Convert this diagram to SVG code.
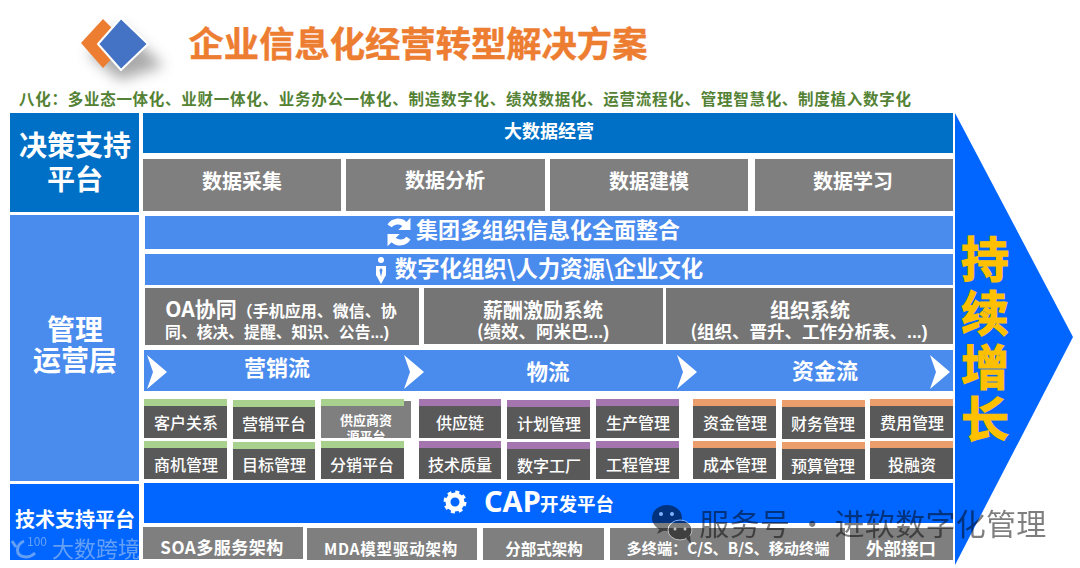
<svg xmlns="http://www.w3.org/2000/svg" width="1080" height="568" viewBox="0 0 1080 568">
<defs>
<style>
text{font-family:"Noto Sans CJK SC","Noto Sans",sans-serif;font-weight:700;fill:#fff;text-anchor:middle}
.dk{fill:#0070C6}.bl{fill:#4A8BEE}.br{fill:#0066FF}.gr{fill:#7F7F7F}.sm{fill:#595959}.mid{fill:#757575}
.g{fill:#A9D18E}.p{fill:#A475AE}.o{fill:#EB9E6B}
.t13{font-size:16px;font-weight:500}
.t20{font-size:20px}
.lat{font-family:"Liberation Sans",sans-serif}
</style>
<filter id="sh" x="-50%" y="-50%" width="200%" height="200%"><feGaussianBlur stdDeviation="7"/></filter>
</defs>
<rect width="1080" height="568" fill="#fff"/>
<g id="logo">
<path d="M128 32 L172 72 L128 86 L96 60Z" fill="#555" opacity=".5" filter="url(#sh)" transform="translate(-8,-6)"/>
<path d="M103 19 L81 43 L103 68 L115 55 L103 43 L115 31Z" fill="#ED7D31"/>
<path d="M121 18 L148 44 L121 70 L98 44Z" fill="#4472C4" stroke="#fff" stroke-width="2" stroke-linejoin="round"/>
</g>
<g id="title"><text x="418" y="57" style="font-size:35.300px;fill:#ED7D31;stroke:#ED7D31;stroke-width:.4px">企业信息化经营转型解决方案</text></g>
<g id="subtitle"><text x="465" y="105" textLength="892" lengthAdjust="spacing" style="font-size:15.5px;fill:#548235">八化：多业态一体化、业财一体化、业务办公一体化、制造数字化、绩效数据化、运营流程化、管理智慧化、制度植入数字化</text></g>

<g id="arrow"><polygon points="955,113 1073,337 955,565" class="br"/>
<text style="font-size:48px;fill:#FFC000;stroke:#FFC000;stroke-width:1.200px"><tspan x="985" y="277">持</tspan><tspan x="985" y="331">续</tspan><tspan x="985" y="385">增</tspan><tspan x="985" y="437">长</tspan></text></g>

<g id="decision"><rect x="10" y="113" width="129" height="99" class="dk"/>
<text style="font-size:28px"><tspan x="75" y="156">决策支持</tspan><tspan x="75" y="190">平台</tspan></text></g>
<g id="mgmt"><rect x="10" y="215" width="129" height="266" class="bl"/>
<text style="font-size:28px"><tspan x="75" y="340">管理</tspan><tspan x="75" y="371">运营层</tspan></text></g>
<g id="tech"><rect x="10" y="484" width="129" height="76" class="br"/>
<text x="75" y="527" style="font-size:20px">技术支持平台</text></g>

<g id="bigdata"><rect x="143" y="113" width="810" height="40" class="dk"/><text x="549" y="138" style="font-size:18px">大数据经营</text></g>
<g id="d1"><rect x="143" y="159" width="198" height="52" class="gr"/><text x="242" y="189" class="t20">数据采集</text></g>
<g id="d2"><rect x="346" y="159" width="199" height="52" class="gr"/><text x="445" y="188" class="t20">数据分析</text></g>
<g id="d3"><rect x="550" y="159" width="198" height="52" class="gr"/><text x="649" y="189" class="t20">数据建模</text></g>
<g id="d4"><rect x="755" y="159" width="198" height="52" class="gr"/><text x="853" y="189" class="t20">数据学习</text></g>

<g id="integrate"><rect x="145" y="216" width="808" height="33" class="bl"/>
<path transform="translate(399,232) scale(1.350) translate(-399.500,-231.500)" d="M391 226a9 9 0 0 1 14-2l3-3v9h-9l3-3a6 6 0 0 0-8 1zM408 237a9 9 0 0 1-14 2l-3 3v-9h9l-3 3a6 6 0 0 0 8-1z" fill="#fff"/>
<text x="548" y="238" style="font-size:22px">集团多组织信息化全面整合</text></g>
<g id="org"><rect x="145" y="254" width="808" height="31" class="bl"/>
<circle cx="381" cy="260" r="3" fill="#fff"/><path d="M376 266h10v9l-5 9-5-9z" fill="#fff"/><path d="M381 268l-1.500 2 1.500 7 1.500-7z" fill="#4A8BEE"/>
<text x="549" y="277" style="font-size:22.400px">数字化组织\人力资源\企业文化</text></g>

<g id="oa"><rect x="145" y="288" width="274" height="57" class="mid"/>
<text x="281" y="317" style="font-size:16px"><tspan style="font-size:21px">OA协同</tspan>（手机应用、微信、协</text><text x="277" y="338" style="font-size:15.800px">同、核决、提醒、知识、公告<tspan class="lat">...)</tspan></text></g>
<g id="pay"><rect x="424" y="288" width="239" height="56" class="mid"/>
<text x="543" y="318" style="font-size:20px">薪酬激励系统</text><text x="543" y="338" style="font-size:17.500px">(绩效、阿米巴<tspan class="lat">...)</tspan></text></g>
<g id="orgsys"><rect x="666" y="288" width="287" height="56" class="mid"/>
<text x="810" y="318" style="font-size:20px">组织系统</text><text x="809" y="338" style="font-size:17.500px">(组织、晋升、工作分析表、<tspan class="lat">...)</tspan></text></g>

<g id="flow"><rect x="144" y="350" width="809" height="41" class="bl"/>
<path d="M147 355l20 17-20 17 6-17z" fill="#fff"/><path d="M404 355l20 17-20 17 6-17z" fill="#fff"/><path d="M677 355l20 17-20 17 6-17z" fill="#fff"/><path d="M930 355l20 17-20 17 6-17z" fill="#fff"/>
<text x="277" y="376" style="font-size:22px">营销流</text><text x="548" y="380" style="font-size:21.500px">物流</text><text x="825" y="379" style="font-size:22px">资金流</text></g>

<g id="s11"><rect x="144" y="399" width="83" height="39" class="sm"/><rect x="144" y="399" width="83" height="7" class="g"/><text x="186" y="429" class="t13">客户关系</text></g>
<g id="s12"><rect x="233" y="400" width="82" height="39" class="sm"/><rect x="233" y="400" width="82" height="7" class="g"/><text x="274" y="430" class="t13">营销平台</text></g>
<g id="s13"><rect x="321" y="401" width="90" height="37" class="gr"/><text x="366" y="425" style="font-size:13px">供应商资</text><text x="366" y="441" style="font-size:13px">源平台</text><rect x="321" y="438" width="90" height="4" fill="#fff"/><rect x="321" y="399" width="83" height="7" class="g"/></g>
<g id="s21"><rect x="144" y="441" width="83" height="38" class="sm"/><rect x="144" y="441" width="83" height="7" class="g"/><text x="186" y="471" class="t13">商机管理</text></g>
<g id="s22"><rect x="233" y="442" width="82" height="38" class="sm"/><rect x="233" y="442" width="82" height="7" class="g"/><text x="274" y="471" class="t13">目标管理</text></g>
<g id="s23"><rect x="321" y="441" width="83" height="38" class="sm"/><rect x="321" y="441" width="83" height="7" class="g"/><text x="362" y="471" class="t13">分销平台</text></g>

<g id="s14"><rect x="419" y="399" width="82" height="39" class="sm"/><rect x="419" y="399" width="82" height="7" class="p"/><text x="460" y="429" class="t13">供应链</text></g>
<g id="s15"><rect x="507" y="400" width="83" height="39" class="sm"/><rect x="507" y="400" width="83" height="7" class="p"/><text x="549" y="430" class="t13">计划管理</text></g>
<g id="s16"><rect x="596" y="399" width="83" height="39" class="sm"/><rect x="596" y="399" width="83" height="7" class="p"/><text x="638" y="429" class="t13">生产管理</text></g>
<g id="s24"><rect x="419" y="441" width="82" height="38" class="sm"/><rect x="419" y="441" width="82" height="7" class="p"/><text x="460" y="471" class="t13">技术质量</text></g>
<g id="s25"><rect x="507" y="442" width="83" height="38" class="sm"/><rect x="507" y="442" width="83" height="7" class="p"/><text x="549" y="472" class="t13">数字工厂</text></g>
<g id="s26"><rect x="596" y="441" width="83" height="38" class="sm"/><rect x="596" y="441" width="83" height="7" class="p"/><text x="638" y="471" class="t13">工程管理</text></g>

<g id="s17"><rect x="693" y="399" width="83" height="39" class="sm"/><rect x="693" y="399" width="83" height="7" class="o"/><text x="735" y="429" class="t13">资金管理</text></g>
<g id="s18"><rect x="782" y="400" width="83" height="39" class="sm"/><rect x="782" y="400" width="83" height="7" class="o"/><text x="823" y="430" class="t13">财务管理</text></g>
<g id="s19"><rect x="870" y="399" width="83" height="39" class="sm"/><rect x="870" y="399" width="83" height="7" class="o"/><text x="912" y="429" class="t13">费用管理</text></g>
<g id="s27"><rect x="693" y="441" width="83" height="38" class="sm"/><rect x="693" y="441" width="83" height="7" class="o"/><text x="735" y="471" class="t13">成本管理</text></g>
<g id="s28"><rect x="782" y="442" width="83" height="38" class="sm"/><rect x="782" y="442" width="83" height="7" class="o"/><text x="823" y="472" class="t13">预算管理</text></g>
<g id="s29"><rect x="870" y="441" width="83" height="38" class="sm"/><rect x="870" y="441" width="83" height="7" class="o"/><text x="912" y="471" class="t13">投融资</text></g>

<g id="cap"><rect x="144" y="483" width="809" height="40" class="br"/>
<circle cx="455" cy="502" r="7" fill="none" stroke="#fff" stroke-width="5"/><circle cx="455" cy="502" r="10" fill="none" stroke="#fff" stroke-width="3" stroke-dasharray="4 3.850"/>
<text x="484" y="512" style="font-size:29px;text-anchor:start;font-family:'Noto Sans',sans-serif">CAP</text><text x="577" y="511" style="font-size:18.500px">开发平台</text></g>
<g id="b1"><rect x="143" y="527" width="160" height="32" class="gr"/><text x="222" y="554" style="font-size:17px;letter-spacing:.5px">SOA多服务架构</text></g>
<g id="b2"><rect x="307" y="528" width="170" height="32" class="gr"/><text x="391" y="555" style="font-size:15.500px;letter-spacing:.8px">MDA模型驱动架构</text></g>
<g id="b3"><rect x="483" y="528" width="121" height="32" class="gr"/><text x="544" y="555" style="font-size:15.500px">分部式架构</text></g>
<g id="b4"><rect x="610" y="528" width="235" height="32" class="gr"/><text x="728" y="554" style="font-size:15.200px">多终端：C/S、B/S、移动终端</text></g>
<g id="b5"><rect x="850" y="528" width="103" height="32" class="gr"/><text x="901" y="555" style="font-size:17.500px">外部接口</text></g>

<g id="wm1" opacity=".5"><ellipse cx="667" cy="518" rx="15" ry="13" fill="#000"/><path d="M660 528l-3 6 8-4z" fill="#000"/><ellipse cx="680" cy="530" rx="12" ry="10" fill="#000" stroke="#fff" stroke-width="1"/><path d="M686 538l5 6-1-9z" fill="#000"/><circle cx="675" cy="529" r="1.500" fill="#fff"/><circle cx="685" cy="529" r="1.500" fill="#fff"/><circle cx="661" cy="514" r="2" fill="#fff"/><circle cx="672" cy="514" r="2" fill="#fff"/>
<text x="873" y="535" style="font-size:30px;font-weight:400;fill:#000;letter-spacing:.3px">服务号 · 进软数字化管理</text></g>
<g id="wm2" opacity=".6"><path d="M12 541l4 6M24 541c-8 4-10 15 2 16 4 0 7-2 9-4" fill="none" stroke="#A8C6EE" stroke-width="3"/>
<text x="37" y="546" style="font-size:12px;font-weight:400;fill:#A8C6EE">100</text>
<text x="96" y="557" style="font-size:22px;font-weight:400;fill:#A8C6EE">大数跨境</text></g>
</svg>
